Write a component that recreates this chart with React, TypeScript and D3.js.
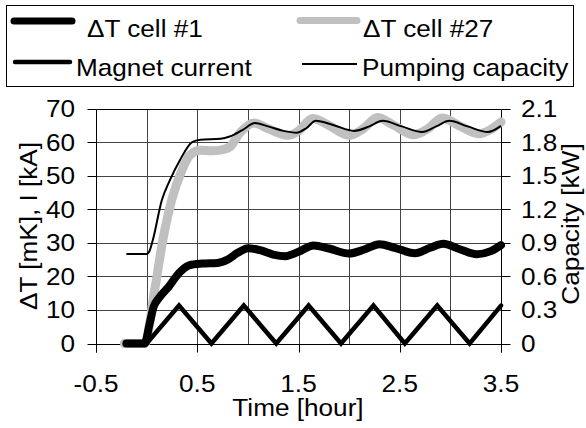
import React from "react";
import * as d3 from "d3";

// ---- data ----
const timeCell1 = [-0.2, -0.02, 0.03, 0.07, 0.12, 0.22, 0.32, 0.42, 0.55, 0.7, 0.8, 0.9, 1.0, 1.12, 1.25, 1.37, 1.5, 1.65, 1.8, 2.0, 2.15, 2.3, 2.45, 2.65, 2.8, 2.93, 3.1, 3.26, 3.4, 3.5];
const cell1 = [0, 0, 6, 11, 13.5, 17, 21, 23.3, 23.8, 24, 25, 27, 28.4, 27.8, 26.5, 26, 27.3, 29.2, 28.3, 26.8, 28, 29.6, 28.5, 26.9, 28.5, 29.7, 28, 26.6, 27.5, 29.3];

const timeCell27 = [-0.22, -0.02, 0.08, 0.16, 0.25, 0.35, 0.43, 0.53, 0.65, 0.73, 0.82, 0.92, 1.06, 1.2, 1.4, 1.5, 1.64, 1.8, 2.0, 2.14, 2.28, 2.44, 2.64, 2.78, 2.92, 3.08, 3.28, 3.4, 3.5];
const cell27 = [0, 0, 16, 30.8, 43, 51.7, 56.2, 57.6, 57.4, 57.6, 58.5, 62.7, 65.7, 64, 62, 63.3, 67, 65, 62, 64, 67.3, 65, 62.2, 64, 67.2, 65, 62.5, 63.8, 66];

const timeCurrent = [-0.2, 0.0, 0.32, 0.64, 0.96, 1.28, 1.6, 1.92, 2.24, 2.55, 2.87, 3.19, 3.5];
const current = [0, 0, 11.3, 0, 11.3, 0, 11.3, 0, 11.3, 0, 11.3, 0, 11.3];

const timePump = [-0.2, 0.0, 0.03, 0.06, 0.15, 0.23, 0.33, 0.45, 0.53, 0.73, 0.82, 0.95, 1.07, 1.2, 1.35, 1.48, 1.58, 1.67, 1.85, 2.05, 2.2, 2.33, 2.52, 2.72, 2.86, 2.99, 3.17, 3.37, 3.5];
const pumpKW = [0.8, 0.8, 0.83, 0.92, 1.28, 1.46, 1.64, 1.8, 1.82, 1.83, 1.85, 1.91, 1.97, 1.94, 1.9, 1.884, 1.926, 1.99, 1.95, 1.9, 1.94, 1.99, 1.94, 1.89, 1.94, 1.99, 1.94, 1.89, 1.945];

const xTickLabels = ["-0.5", "0.5", "1.5", "2.5", "3.5"];
const xGrid = [0, 0.5, 1.0, 1.5, 2.0, 2.5, 3.0];
const yLeftTicks = [0, 10, 20, 30, 40, 50, 60, 70];
const yRightTicks = ["0", "0.3", "0.6", "0.9", "1.2", "1.5", "1.8", "2.1"];
const legendLabels = ["\u0394T cell #1", "\u0394T cell #27", "Magnet current", "Pumping capacity"];

const FONT = "'Liberation Sans', Arial, sans-serif";
const FS = 24;
const SX = 1.09;

function T({ x, y, anchor = "start", rotate = 0, children }: any) {
  return (
    <g transform={`translate(${x},${y}) rotate(${rotate}) scale(${SX},1)`}>
      <text x={0} y={0} textAnchor={anchor} fontFamily={FONT} fontSize={FS} fill="#000">
        {children}
      </text>
    </g>
  );
}

export default function App() {
  const x = d3.scaleLinear().domain([-0.5, 3.5]).range([96, 501]);
  const y = d3.scaleLinear().domain([0, 70]).range([343.5, 108.5]);
  const yR = d3.scaleLinear().domain([0, 2.1]).range([343.5, 108.5]);
  const px = (v: number) => Math.round(v) + 0.5;

  const smooth = d3.line<[number, number]>().x((d) => x(d[0])).y((d) => y(d[1])).curve(d3.curveMonotoneX);
  const smoothR = d3.line<[number, number]>().x((d) => x(d[0])).y((d) => yR(d[1])).curve(d3.curveMonotoneX);
  const linear = d3.line<[number, number]>().x((d) => x(d[0])).y((d) => y(d[1]));

  const zip = (a: number[], b: number[]) => a.map((t, i) => [t, b[i]] as [number, number]);

  const xL = px(x(-0.5));
  const xRr = px(x(3.5));
  const yB = px(y(0));
  const yT = px(y(70));

  return (
    <svg width={586} height={428} style={{ position: "absolute", left: 0, top: 0, background: "#fff" }}>
      <rect x={0} y={0} width={586} height={428} fill="#fff" />
      {/* legend */}
      <rect x={6.5} y={5.5} width={567} height={81} fill="none" stroke="#000" strokeWidth={1} />
      <line x1={14} x2={72} y1={21} y2={21} stroke="#000" strokeWidth={7} strokeLinecap="round" />
      <T x={87} y={37}>{legendLabels[0]}</T>
      <line x1={300} x2={357} y1={20.5} y2={20.5} stroke="#c0c0c0" strokeWidth={7} strokeLinecap="round" />
      <T x={363} y={36.5}>{legendLabels[1]}</T>
      <line x1={15} x2={70} y1={62} y2={62} stroke="#000" strokeWidth={4.5} strokeLinecap="round" />
      <T x={76} y={76}>{legendLabels[2]}</T>
      <line x1={302} x2={357} y1={64} y2={64} stroke="#000" strokeWidth={2} />
      <T x={362} y={76}>{legendLabels[3]}</T>

      {/* grid */}
      {yLeftTicks.slice(1, -1).map((v) => (
        <line key={"h" + v} x1={xL} x2={xRr} y1={px(y(v))} y2={px(y(v))} stroke="#444" strokeWidth={1} />
      ))}
      {xGrid.map((v) => (
        <line key={"v" + v} x1={px(x(v))} x2={px(x(v))} y1={yT} y2={yB} stroke="#444" strokeWidth={1} />
      ))}
      {/* frame */}
      <line x1={xL} x2={xRr} y1={yT} y2={yT} stroke="#000" strokeWidth={1} />
      <line x1={xL} x2={xRr} y1={yB} y2={yB} stroke="#000" strokeWidth={1} />
      <line x1={xL} x2={xL} y1={yT} y2={yB + 8} stroke="#000" strokeWidth={1} />
      <line x1={xRr} x2={xRr} y1={yT} y2={yB + 8} stroke="#000" strokeWidth={1} />
      {/* ticks */}
      {yLeftTicks.map((v) => (
        <line key={"lt" + v} x1={xL - 9} x2={xL} y1={px(y(v))} y2={px(y(v))} stroke="#000" strokeWidth={1} />
      ))}
      {yLeftTicks.map((v) => (
        <line key={"rt" + v} x1={xRr} x2={xRr + 9} y1={px(y(v))} y2={px(y(v))} stroke="#000" strokeWidth={1} />
      ))}
      {xTickLabels.map((s) => (
        <line key={"bt" + s} x1={px(x(+s))} x2={px(x(+s))} y1={yB} y2={yB + 8} stroke="#000" strokeWidth={1} />
      ))}

      {/* series */}
      <path d={smooth(zip(timeCell27, cell27)) || ""} fill="none" stroke="#c0c0c0" strokeWidth={9} strokeLinecap="round" strokeLinejoin="round" />
      <path d={smooth(zip(timeCell1, cell1)) || ""} fill="none" stroke="#000" strokeWidth={8} strokeLinecap="round" strokeLinejoin="round" />
      <path d={linear(zip(timeCurrent, current)) || ""} fill="none" stroke="#000" strokeWidth={4.5} strokeLinecap="round" strokeLinejoin="miter" />
      <path d={smoothR(zip(timePump, pumpKW)) || ""} fill="none" stroke="#000" strokeWidth={2} strokeLinejoin="round" />

      {/* tick labels */}
      {yLeftTicks.map((v) => (
        <T key={"ll" + v} x={75} y={y(v) + 8.5} anchor="end">{String(v)}</T>
      ))}
      {yRightTicks.map((s) => (
        <T key={"rl" + s} x={521} y={yR(+s) + 8.5} anchor="start">{s}</T>
      ))}
      {xTickLabels.map((s) => (
        <T key={"xl" + s} x={x(+s)} y={392} anchor="middle">{s}</T>
      ))}

      {/* axis titles */}
      <T x={298} y={416} anchor="middle">Time [hour]</T>
      <T x={37} y={226} anchor="middle" rotate={-90}>{"\u0394T [mK], I [kA]"}</T>
      <T x={579} y={224} anchor="middle" rotate={-90}>Capacity [kW]</T>
    </svg>
  );
}
